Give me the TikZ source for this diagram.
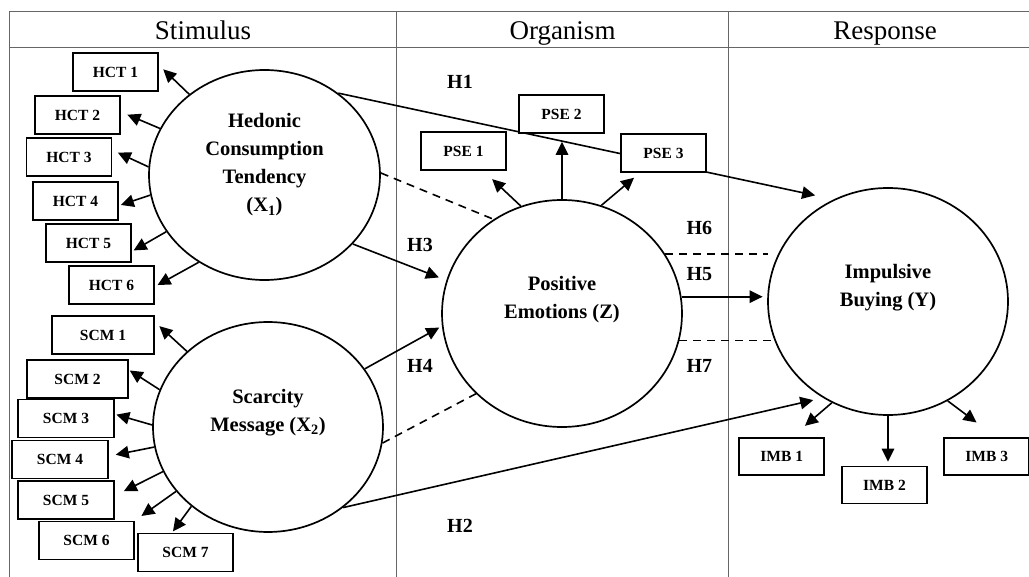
\documentclass[tikz,border=0pt]{standalone}
\usepackage{fontspec}
\setmainfont{Liberation Serif}
\usetikzlibrary{arrows.meta,shapes.geometric,calc}
\begin{document}
\begin{tikzpicture}[x=1pt,y=-1pt,
  grid/.style={draw=black!60, line width=1pt},
  ind/.style={draw, line width=1.8pt, fill=white, minimum height=38pt, minimum width=85pt, inner sep=0pt, font=\fontsize{15.5}{18}\selectfont\bfseries},
  lat/.style={draw, ellipse, line width=1.7pt, inner sep=0pt},
  lbl/.style={align=center, font=\fontsize{20.5}{28}\selectfont\bfseries},
  hl/.style={font=\fontsize{20}{24}\selectfont\bfseries},
  arr/.style={-{Triangle[length=13pt,width=12.5pt]}, line width=1.6pt},
  dsh/.style={dash pattern=on 8pt off 6pt, line width=1.6pt},
  hdr/.style={font=\fontsize{27}{32}\selectfont, anchor=base}
]
\useasboundingbox (0,0) rectangle (1029,577);
\fill[white] (0,0) rectangle (1029,577);
% table
\draw[grid] (9,577) -- (9,12) -- (1029,12);
\draw[grid] (9,48) -- (1029,48);
\draw[grid] (396,12) -- (396,577);
\draw[grid] (728,12) -- (728,577);
\node[hdr] (hs) at (203,39.5) {Stimulus};
\node[hdr] (ho) at (562.5,39.5) {Organism};
\node[hdr] (hr) at (885,39.5) {Response};

% latent variables
\node[lat, minimum width=231pt, minimum height=210pt] (hct) at (264.5,175) {};
\node[lat, minimum width=230pt, minimum height=210pt] (scm) at (268,427) {};
\node[lat, minimum width=240pt, minimum height=227pt] (pe) at (562,313.5) {};
\node[lat, minimum width=240pt, minimum height=227pt] (ib) at (888,301.5) {};
\node[lbl] (thct) at (264.5,165) {Hedonic\\Consumption\\Tendency\\(X\textsubscript{1})};
\node[lbl] (tscm) at (268,412.5) {Scarcity\\Message (X\textsubscript{2})};
\node[lbl] (tpe) at (562,299.5) {Positive\\Emotions (Z)};
\node[lbl] (tib) at (888,287.5) {Impulsive\\Buying (Y)};

% H1 (drawn beneath indicator boxes)
\draw[arr, shorten >=19pt] (hct.48.5) -- (ib.118.4);

% indicators
\node[ind] (h1) at (115.5,72) {HCT 1};
\node[ind] (h2) at (77.5,115) {HCT 2};
\node[ind] (h3) at (69,157) {HCT 3};
\node[ind] (h4) at (75.5,201) {HCT 4};
\node[ind] (h5) at (88.5,243) {HCT 5};
\node[ind] (h6) at (111.5,285) {HCT 6};
\node[ind, minimum width=102pt] (s1) at (103,335) {SCM 1};
\node[ind, minimum width=101pt] (s2) at (77.5,379) {SCM 2};
\node[ind, minimum width=96pt] (s3) at (66,418.5) {SCM 3};
\node[ind, minimum width=96pt] (s4) at (60,459.5) {SCM 4};
\node[ind, minimum width=96pt] (s5) at (66,500) {SCM 5};
\node[ind, minimum width=95pt] (s6) at (86.5,540.5) {SCM 6};
\node[ind, minimum width=95pt] (s7) at (185.5,552.5) {SCM 7};
\node[ind] (p1) at (463.5,151) {PSE 1};
\node[ind] (p2) at (561.5,114) {PSE 2};
\node[ind] (p3) at (663.5,153) {PSE 3};
\node[ind, minimum height=37pt] (m1) at (781.7,456.3) {IMB 1};
\node[ind, minimum height=37pt] (m2) at (884.5,485) {IMB 2};
\node[ind, minimum height=37pt] (m3) at (986.7,456.3) {IMB 3};

% loadings HCT
\draw[arr, shorten >=6pt] (hct.133) -- (h1.9);
\draw[arr, shorten >=7pt] (hct.156.7) -- (h2.4);
\draw[arr, shorten >=6pt] (hct.176) -- (h3.9);
\draw[arr, shorten >=2pt] (hct.190.6) -- (h4.-6);
\draw[arr, shorten >=2pt] (hct.210.7) -- (h5.-11);
\draw[arr, shorten >=3pt] (hct.233.8) -- (h6.-2);
% loadings SCM
\draw[arr, shorten >=6pt] (scm.137.5) -- (s1.14);
\draw[arr, shorten >=1pt] (scm.161) -- (s2.10);
\draw[arr, shorten >=1.5pt] (scm.179) -- (s3.5);
\draw[arr, shorten >=7pt] (scm.190) -- (s4.4);
\draw[arr, shorten >=10pt] (scm.203) -- (s5.5);
\draw[arr, shorten >=8pt] (scm.215) -- (s6.north east);
\draw[arr, shorten >=1.5pt] (scm.226) -- (s7.124);
% loadings PE
\draw[arr, shorten >=12pt] (pe.111) -- (p1.-45);
\draw[arr, shorten >=8pt] (pe.north) -- (pe.north |- p2.south);
\draw[arr, shorten >=7.5pt] (pe.70.2) -- (p3.220);
% loadings IB
\draw[arr, shorten >=17pt] (ib.241.7) -- (m1.62);
\draw[arr, shorten >=4pt] (ib.south) -- (ib.south |- m2.north);
\draw[arr, shorten >=24pt] (ib.-59.9) -- (m3.65.4);

% structural paths
\draw[arr, shorten >=8pt] (hct.-38) -- (pe.164.3);
\draw[arr, shorten >=3pt] (scm.31.6) -- (pe.186.8);
\draw[dsh] (hct.1) -- (pe.126.4);
\draw[dsh] (scm.-8) -- (pe.223.9);
\draw[arr, shorten >=10pt] (scm.-47.2) -- (ib.236.7);
\draw[arr, shorten >=4.5pt] (pe.8) -- (pe.8 -| ib.west);
\coordinate (h6e) at (768,252.3);
\draw[dsh] (pe.30.7) -- (pe.30.7 -| h6e);
\draw[dsh] (pe.-13.9) -- (pe.-13.9 -| ib.200);

% hypothesis labels
\node[hl] (H1) at (460,82) {H1};
\node[hl] (H2) at (460,526) {H2};
\node[hl] (H3) at (420,245) {H3};
\node[hl] (H4) at (420,366) {H4};
\node[hl] (H5) at (699.3,274.3) {H5};
\node[hl] (H6) at (699.3,227.7) {H6};
\node[hl] (H7) at (699.3,366) {H7};
\end{tikzpicture}
\end{document}
